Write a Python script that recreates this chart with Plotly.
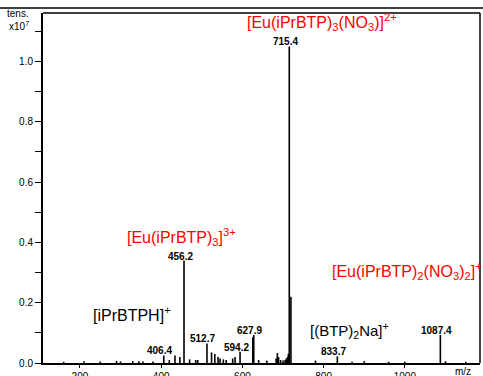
import plotly.graph_objects as go

# ---- data (m/z, intensity x10^7) ----
peak_mz = [160, 210, 250, 290, 300, 330, 345, 355, 380,
           406.4, 420, 434, 446, 456.2, 470, 485, 490,
           512.7, 524, 532, 540, 545, 553, 560, 576, 582,
           594.2, 625.5, 627.9, 640, 660,
           683, 686, 689, 694, 700, 705, 708, 711, 713,
           715.4, 719.5, 780, 833.7, 870, 900, 960, 1000,
           1087.4, 1100, 1150]
peak_int = [0.004, 0.006, 0.005, 0.007, 0.005, 0.006, 0.006, 0.005, 0.005,
            0.025, 0.01, 0.025, 0.02, 0.34, 0.012, 0.01, 0.01,
            0.065, 0.035, 0.03, 0.02, 0.015, 0.012, 0.01, 0.015, 0.02,
            0.037, 0.085, 0.093, 0.01, 0.008,
            0.015, 0.033, 0.02, 0.01, 0.008, 0.01, 0.015, 0.02, 0.03,
            1.05, 0.22, 0.008, 0.022, 0.004, 0.006, 0.004, 0.004,
            0.093, 0.006, 0.004]

label_mz = [406.4, 456.2, 512.7, 594.2, 627.9, 715.4, 833.7, 1087.4]
label_int = [0.025, 0.34, 0.065, 0.037, 0.093, 1.05, 0.022, 0.093]

ytick_vals = [0.0, 0.1, 0.2, 0.3, 0.4, 0.5, 0.6, 0.7, 0.8, 0.9, 1.0, 1.1]
ytick_text = ["0.0", "", "0.2", "", "0.4", "", "0.6", "", "0.8", "", "1.0", ""]
xtick_vals = [200, 400, 600, 800, 1000]
xtick_text = ["200", "400", "600", "800", "1000"]

# ---- build stick spectrum ----
xs, ys = [], []
for m, h in zip(peak_mz, peak_int):
    xs += [m, m, None]
    ys += [0, h, None]

FONT = "Liberation Sans, Arial, Helvetica, sans-serif"

fig = go.Figure()
fig.add_trace(go.Scatter(x=xs, y=ys, mode="lines",
                         line=dict(color="black", width=1.6),
                         hoverinfo="skip", showlegend=False))

annotations = []
for m, h in zip(label_mz, label_int):
    annotations.append(dict(x=m, y=h, xref="x", yref="y", text=f"<b>{m:.1f}</b>",
                            showarrow=False, xanchor="center", yanchor="bottom",
                            xshift=-4, yshift=-3,
                            font=dict(family=FONT, size=10, color="black")))

red = "#ff0000"
annotations += [
    dict(x=606, y=1.131, xref="x", yref="y", xanchor="left", yanchor="middle",
         text="[Eu(iPrBTP)<sub>3</sub>(NO<sub>3</sub>)]<sup>2+</sup>", showarrow=False,
         font=dict(family=FONT, size=16, color=red)),
    dict(x=311, y=0.418, xref="x", yref="y", xanchor="left", yanchor="middle",
         text="[Eu(iPrBTP)<sub>3</sub>]<sup>3+</sup>", showarrow=False,
         font=dict(family=FONT, size=16, color=red)),
    dict(x=816, y=0.305, xref="x", yref="y", xanchor="left", yanchor="middle",
         text="[Eu(iPrBTP)<sub>2</sub>(NO<sub>3</sub>)<sub>2</sub>]<sup>+</sup>", showarrow=False,
         font=dict(family=FONT, size=16, color=red)),
    dict(x=227, y=0.163, xref="x", yref="y", xanchor="left", yanchor="middle",
         text="[iPrBTPH]<sup>+</sup>", showarrow=False,
         font=dict(family=FONT, size=16, color="black")),
    dict(x=761, y=0.107, xref="x", yref="y", xanchor="left", yanchor="middle",
         text="[(BTP)<sub>2</sub>Na]<sup>+</sup>", showarrow=False,
         font=dict(family=FONT, size=15, color="black")),
    dict(x=-0.088, y=1.0, xref="paper", yref="paper", xanchor="left", yanchor="middle",
         text="tens.", showarrow=False, font=dict(family=FONT, size=10, color="black")),
    dict(x=-0.083, y=0.963, xref="paper", yref="paper", xanchor="left", yanchor="middle",
         text="x10<sup>7</sup>", showarrow=False, font=dict(family=FONT, size=10, color="black")),
    dict(x=0.962, y=-0.025, xref="paper", yref="paper", xanchor="center", yanchor="middle",
         text="m/z", showarrow=False, font=dict(family=FONT, size=10, color="black")),
]

shapes = [
    # top rule across the whole image
    dict(type="line", xref="paper", yref="paper", x0=-0.1, x1=1.01, y0=1.0143, y1=1.0143,
         line=dict(color="black", width=1.5)),
    # top border of frame
    dict(type="line", xref="paper", yref="paper", x0=0, x1=1, y0=1, y1=1,
         line=dict(color="black", width=1.5)),
    # right border of frame
    dict(type="line", xref="paper", yref="paper", x0=1, x1=1, y0=0, y1=1,
         line=dict(color="black", width=1.5)),
]

fig.update_layout(
    width=483, height=376,
    margin=dict(l=43, r=3, t=13, b=13),
    paper_bgcolor="white", plot_bgcolor="white",
    font=dict(family=FONT, size=10, color="black"),
    annotations=annotations, shapes=shapes,
    showlegend=False,
)
fig.update_xaxes(range=[109, 1185], showgrid=False, zeroline=False, automargin=False,
                 showline=True, linecolor="black", linewidth=2,
                 ticks="outside", ticklen=3, tickwidth=1, tickcolor="black",
                 tickvals=xtick_vals, ticktext=xtick_text,
                 tickfont=dict(family=FONT, size=10, color="black"))
fig.update_yaxes(range=[0, 1.161], showgrid=False, zeroline=False, automargin=False,
                 showline=True, linecolor="black", linewidth=2,
                 ticks="outside", ticklen=6, tickwidth=1, tickcolor="black",
                 tickvals=ytick_vals, ticktext=ytick_text,
                 tickfont=dict(family=FONT, size=10, color="black"))

fig.write_html("out.html", config={"displayModeBar": False},
               post_script="document.body.style.margin='0';document.body.style.overflow='hidden';")
